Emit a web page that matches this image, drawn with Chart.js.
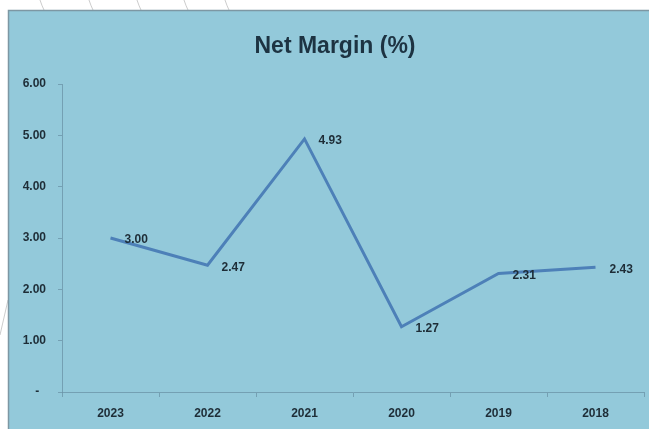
<!DOCTYPE html>
<html>
<head>
<meta charset="utf-8">
<title>Net Margin (%)</title>
<script src="https://cdn.jsdelivr.net/npm/chart.js@4/dist/chart.umd.min.js"></script>
<style>
    html, body { margin: 0; padding: 0; background: #ffffff; }
    #wrap { width: 649px; height: 429px; position: relative; }
</style>
</head>
<body>
<div id="wrap"><canvas id="netMarginChart" width="649" height="429"></canvas></div>
<script>
// values shown on the chart
var years = ['2023', '2022', '2021', '2020', '2019', '2018'];
var netMargin = [3.00, 2.47, 4.93, 1.27, 2.31, 2.43];
var yTicks = [0, 1, 2, 3, 4, 5, 6];

var fontFamily = '"Liberation Sans", Arial, sans-serif';
var textColor = '#1e2d37';
var axisColor = 'rgba(105, 145, 165, 0.75)';

// page background, blue panel and the title
var panelPlugin = {
    id: 'panel',
    beforeDraw: function (chart) {
        var ctx = chart.ctx;
        ctx.save();
        ctx.fillStyle = '#ffffff';
        ctx.fillRect(0, 0, chart.width, chart.height);

        // thin grey strokes of the page decoration above and left of the panel
        ctx.strokeStyle = 'rgba(170, 170, 170, 0.6)';
        ctx.lineWidth = 1;
        [43, 92, 140, 187, 228].forEach(function (x) {
            ctx.beginPath();
            ctx.moveTo(x - 3, 0);
            ctx.quadraticCurveTo(x - 1, 6, x + 1, 10);
            ctx.stroke();
        });
        ctx.beginPath();
        ctx.moveTo(0, 335);
        ctx.lineTo(8, 300);
        ctx.stroke();

        ctx.fillStyle = '#93c9da';
        ctx.fillRect(8, 10, chart.width, chart.height);
        ctx.strokeStyle = '#7d97a3';
        ctx.lineWidth = 1.5;
        ctx.beginPath();
        ctx.moveTo(8.5, chart.height);
        ctx.lineTo(8.5, 10.5);
        ctx.lineTo(chart.width, 10.5);
        ctx.stroke();

        ctx.fillStyle = '#1d3342';
        ctx.font = 'bold 23px ' + fontFamily;
        ctx.textAlign = 'center';
        ctx.textBaseline = 'alphabetic';
        ctx.fillText('Net Margin (%)', 335, 53);
        ctx.restore();
    }
};

// value labels to the right of every point
var valueLabels = {
    id: 'valueLabels',
    afterDatasetsDraw: function (chart) {
        var ctx = chart.ctx;
        var meta = chart.getDatasetMeta(0);
        ctx.save();
        ctx.fillStyle = textColor;
        ctx.font = 'bold 12px ' + fontFamily;
        ctx.textAlign = 'left';
        ctx.textBaseline = 'middle';
        meta.data.forEach(function (pt, i) {
            ctx.fillText(netMargin[i].toFixed(2), pt.x + 14, pt.y + 2);
        });
        ctx.restore();
    }
};

var ctx = document.getElementById('netMarginChart').getContext('2d');
var netMarginChart = new Chart(ctx, {
    type: 'line',
    data: {
        labels: years,
        datasets: [{
            label: 'Net Margin (%)',
            data: netMargin,
            borderColor: '#4d80b8',
            borderWidth: 3,
            pointRadius: 0,
            tension: 0,
            fill: false
        }]
    },
    options: {
        responsive: false,
        animation: false,
        layout: {
            padding: { left: 8, right: 5, top: 84, bottom: 0 }
        },
        scales: {
            x: {
                offset: true,
                grid: {
                    offset: true,
                    drawOnChartArea: false,
                    drawTicks: true,
                    tickLength: 5,
                    color: axisColor
                },
                border: { color: axisColor, width: 1 },
                ticks: {
                    color: textColor,
                    font: { family: fontFamily, size: 12, weight: 'bold' },
                    padding: 9,
                    maxRotation: 0
                },
                afterFit: function (scale) { scale.height = 37; }
            },
            y: {
                min: 0,
                max: 6,
                afterBuildTicks: function (scale) {
                    scale.ticks = yTicks.map(function (v) { return { value: v }; });
                },
                grid: {
                    drawOnChartArea: false,
                    drawTicks: true,
                    tickLength: 4,
                    color: axisColor
                },
                border: { color: axisColor, width: 1 },
                ticks: {
                    color: textColor,
                    font: { family: fontFamily, size: 12, weight: 'bold' },
                    padding: 12,
                    callback: function (v) { return v === 0 ? '-  ' : v.toFixed(2); }
                },
                afterFit: function (scale) { scale.width = 54; }
            }
        },
        plugins: {
            legend: { display: false },
            title: { display: false },
            tooltip: { enabled: false }
        }
    },
    plugins: [panelPlugin, valueLabels]
});
</script>
</body>
</html>
